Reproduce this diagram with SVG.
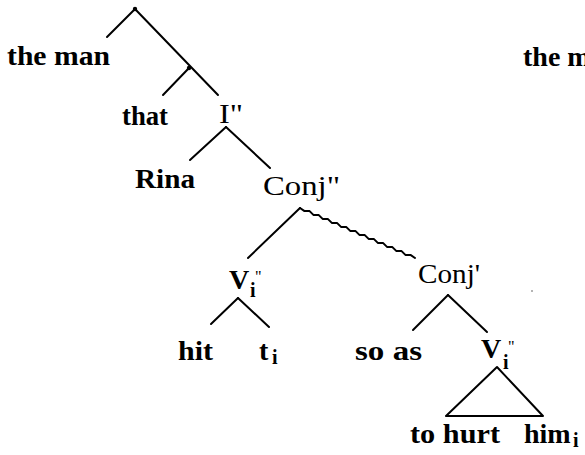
<svg xmlns="http://www.w3.org/2000/svg" width="585" height="455" viewBox="0 0 585 455">
<style>
text{font-family:"Liberation Serif","Times New Roman",serif;fill:#000}
.w{font-size:28px;font-weight:bold}
.c{font-size:28px}
.sub{font-size:20px;font-weight:bold}
.q{font-size:16px;font-weight:normal}
.e{stroke:#000;stroke-width:2;fill:none;stroke-linecap:round;stroke-linejoin:round}
</style>
<rect width="585" height="455" fill="#fff"/>
<g id="connectors" class="e">
<line x1="135" y1="9" x2="107" y2="37"/>
<line x1="135" y1="9" x2="218" y2="95"/>
<line x1="189" y1="68" x2="163" y2="95"/>
<line x1="226" y1="127" x2="190" y2="160"/>
<line x1="226" y1="127" x2="270" y2="168"/>
<line x1="300" y1="208" x2="248" y2="258"/>
<polyline points="300,208 304.2,210.9 309.6,211.1 313.4,214.9 318.8,215.1 322.6,218.9 328,219.1 331.8,222.9 337.2,223.1 341,226.9 346.4,227.1 350.2,230.9 355.6,231.1 359.4,234.9 364.8,235.1 368.6,238.9 374,239.1 377.8,242.9 383.2,243.1 387,246.9 392.4,247.1 396.2,250.9 401.6,251.1 405.4,254.9 410.8,255.1 415,258"/>
<line x1="238" y1="298" x2="211" y2="324"/>
<line x1="238" y1="298" x2="269" y2="327"/>
<line x1="448" y1="295" x2="413" y2="330"/>
<line x1="448" y1="295" x2="487" y2="332"/>
<polygon points="497,367 446,416 543,416"/>
</g>
<g id="root"><circle cx="135" cy="9" r="2.2"/></g>
<g id="n-mid"><circle cx="189" cy="68" r="2.2"/></g>
<g id="the-man"><text class="w" x="7" y="65" textLength="103" lengthAdjust="spacingAndGlyphs">the man</text></g>
<g id="the-man-2"><text class="w" x="523" y="66">the man</text></g>
<g id="that"><text class="w" x="122" y="125" textLength="46" lengthAdjust="spacingAndGlyphs">that</text></g>
<g id="I2"><text class="c" x="219" y="123" textLength="24" lengthAdjust="spacingAndGlyphs">I"</text></g>
<g id="Rina"><text class="w" x="135" y="188" textLength="60" lengthAdjust="spacingAndGlyphs">Rina</text></g>
<g id="Conj2"><text class="c" x="263" y="195" textLength="77" lengthAdjust="spacingAndGlyphs">Conj"</text></g>
<g id="Vi2-left"><text class="w" x="229" y="289">V<tspan class="sub" x="250" y="297">i</tspan><tspan class="q" x="255" y="282">"</tspan></text></g>
<g id="Conj1"><text class="c" x="418" y="283" textLength="62" lengthAdjust="spacingAndGlyphs">Conj'</text></g>
<g id="hit"><text class="w" x="178" y="360" textLength="35" lengthAdjust="spacingAndGlyphs">hit</text></g>
<g id="ti"><text class="w" x="259" y="360">t<tspan class="sub" x="272" y="364">i</tspan></text></g>
<g id="so-as"><text class="w" x="355" y="360" textLength="67" lengthAdjust="spacingAndGlyphs">so as</text></g>
<g id="Vi2-right"><text class="w" x="481" y="358">V<tspan class="sub" x="503" y="369">i</tspan><tspan class="q" x="508" y="352">"</tspan></text></g>
<g id="to-hurt"><text class="w" x="410" y="443" textLength="90" lengthAdjust="spacingAndGlyphs">to hurt</text></g>
<g id="him-i"><text class="w" x="524" y="443">him<tspan class="sub" x="573" y="447">i</tspan></text></g>
<circle cx="532" cy="291" r="0.8" fill="#555"/>
</svg>
